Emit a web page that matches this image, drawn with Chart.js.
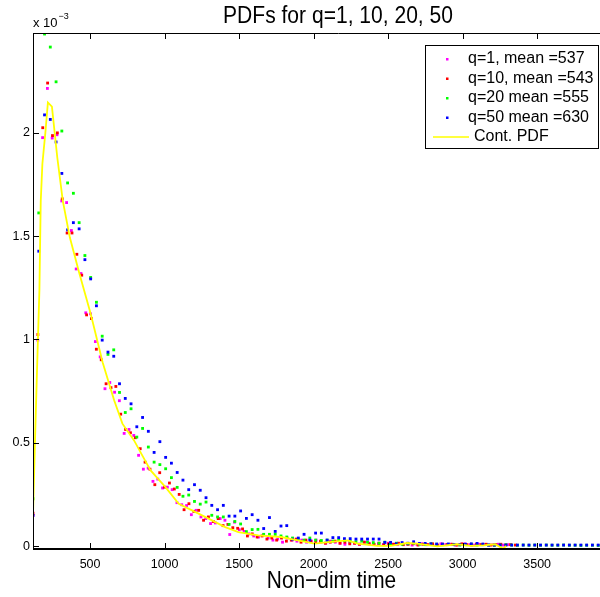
<!DOCTYPE html>
<html>
<head>
<meta charset="utf-8">
<script src="https://cdn.jsdelivr.net/npm/chart.js@4.4.1/dist/chart.umd.min.js"></script>
<style>
  html, body { margin: 0; padding: 0; overflow: hidden; background: #fff; }
  #wrap { width: 648px; height: 597px; }
</style>
</head>
<body>
<div id="wrap"><canvas id="pdfs"></canvas></div>
<script>
// histogram bins: all start at the same first centre, widths differ per q
var binStart = 117;
var binWidthQ1 = 32.2;
var binWidthQ10 = 32.7;
var binWidthQ20 = 38.7;
var binWidthQ50 = 38.7;

// PDF values, in units of 1e-3 (axis shows x 10^-3)
var pdfQ1 = [0.15, 0.997, 1.976, 2.214, 1.974, 1.99, 1.67, 1.662, 1.527, 1.341,
  1.319, 1.129, 1.124, 0.99, 0.916, 0.762, 0.792, 0.745, 0.704, 0.546,
  0.565, 0.536, 0.44, 0.373, 0.378, 0.314, 0.325, 0.282, 0.286, 0.274,
  0.211, 0.201, 0.197, 0.153, 0.174, 0.142, 0.134, 0.11, 0.113, 0.134,
  0.126, 0.057, 0.117, 0.08, 0.072, 0.06, 0.05, 0.045, 0.055, 0.04,
  0.03, 0.035, 0.02, 0.04, 0.03, 0.025, 0.03, 0.02, 0.025, 0.03,
  0.02, 0.015, 0.025, 0.02, 0.015, 0.01, 0.02, 0.015, 0.01, 0.02,
  0.015, 0.01, 0.012, 0.008, 0.015, 0.01, 0.008, 0.012, 0.01, 0.006,
  0.01, 0.012, 0.008, 0.01, 0.006, 0.012, 0.008, 0.01, 0.006, 0.008,
  0.012, 0.008, 0.006, 0.01, 0.008, 0.006, 0.008, 0.01, 0.006, 0.008];
var pdfQ10 = [0.16, 1.024, 2.024, 2.24, 1.986, 1.999, 1.68, 1.515, 1.515, 1.412,
  1.311, 1.119, 1.101, 0.953, 0.902, 0.786, 0.767, 0.773, 0.639, 0.565,
  0.549, 0.525, 0.472, 0.407, 0.373, 0.298, 0.356, 0.286, 0.306, 0.277,
  0.251, 0.177, 0.206, 0.169, 0.174, 0.126, 0.142, 0.12, 0.134, 0.1,
  0.106, 0.09, 0.087, 0.084, 0.05, 0.06, 0.045, 0.05, 0.035, 0.04,
  0.03, 0.04, 0.025, 0.03, 0.035, 0.02, 0.03, 0.025, 0.02, 0.025,
  0.015, 0.02, 0.025, 0.015, 0.02, 0.012, 0.015, 0.01, 0.02, 0.012,
  0.01, 0.015, 0.008, 0.012, 0.01, 0.015, 0.008, 0.01, 0.012, 0.006,
  0.01, 0.008, 0.012, 0.006, 0.01, 0.008, 0.01, 0.006, 0.012, 0.008,
  0.006, 0.01, 0.008, 0.01, 0.006, 0.008, 0.01, 0.006, 0.008, 0.006];
var pdfQ20 = [0.23, 1.612, 2.477, 2.414, 2.246, 2.008, 1.757, 1.707, 1.565, 1.406,
  1.3, 1.18, 1.016, 0.928, 0.95, 0.744, 0.647, 0.665, 0.528, 0.57,
  0.48, 0.407, 0.395, 0.375, 0.332, 0.285, 0.242, 0.248, 0.217, 0.204,
  0.214, 0.15, 0.142, 0.142, 0.106, 0.12, 0.108, 0.071, 0.081, 0.082,
  0.058, 0.058, 0.058, 0.05, 0.045, 0.04, 0.035, 0.03, 0.04, 0.03,
  0.028, 0.03, 0.025, 0.03, 0.028, 0.025, 0.022, 0.025, 0.02, 0.018,
  0.015, 0.02, 0.012, 0.015, 0.01, 0.012, 0.015, 0.01, 0.008, 0.012,
  0.01, 0.008, 0.01, 0.008, 0.006, 0.008, 0.01, 0.006, 0.008, 0.006,
  0.005, 0.006, 0.008, 0.006, 0.005, 0.006, 0.005, 0.006, 0.005, 0.006,
  0.005, 0.005, 0.006, 0.005, 0.005, 0.004, 0.005, 0.005, 0.004, 0.005];
var pdfQ50 = [0.15, 1.427, 2.086, 2.064, 1.955, 1.803, 1.53, 1.565, 1.535, 1.386,
  1.293, 1.163, 0.997, 0.939, 0.919, 0.786, 0.715, 0.689, 0.578, 0.623,
  0.556, 0.454, 0.506, 0.43, 0.402, 0.357, 0.32, 0.274, 0.298, 0.271,
  0.235, 0.198, 0.177, 0.198, 0.146, 0.146, 0.171, 0.135, 0.153, 0.126,
  0.086, 0.139, 0.072, 0.098, 0.1, 0.034, 0.04, 0.058, 0.03, 0.064,
  0.064, 0.03, 0.042, 0.042, 0.037, 0.037, 0.035, 0.035, 0.035, 0.035,
  0.035, 0.019, 0.019, 0.012, 0.018, 0.015, 0.022, 0.014, 0.014, 0.012,
  0.011, 0.011, 0.011, 0.009, 0.009, 0.01, 0.012, 0.014, 0.011, 0.006,
  0.006, 0.006, 0.006, 0.006, 0.006, 0.006, 0.006, 0.006, 0.006, 0.006,
  0.006, 0.006, 0.006, 0.006, 0.006, 0.006, 0.006, 0.006, 0.006, 0.006];

// continuous PDF curve (x, value in 1e-3)
var contX = [117, 130, 144, 160, 169, 180, 200, 217, 244, 280, 317, 364, 426, 504, 584,
  662, 717, 795, 850, 906, 1006, 1095, 1184, 1295, 1407, 1495, 1629, 1782, 1895,
  2006, 2117, 2229, 2295, 2429, 2517, 2629, 2695, 2829, 2962, 3051, 3140, 3217, 3271, 3293];
var contY = [0.15, 0.5, 0.85, 1.24, 1.67, 1.85, 2.0, 2.146, 2.126, 1.88, 1.67, 1.494, 1.325, 1.124, 0.89,
  0.705, 0.593, 0.512, 0.44, 0.367, 0.286, 0.206, 0.174, 0.134, 0.093, 0.069, 0.053, 0.045, 0.029,
  0.013, 0.021, 0.029, 0.013, 0.002, 0.002, 0.016, 0.013, 0.0, 0.01, 0.002, 0.005, 0.01, -0.011, 0.002];

var seriesLabels = ["q=1, mean =537", "q=10, mean =543", "q=20 mean =555", "q=50 mean =630", "Cont. PDF"];
var seriesColors = ["#ff00ff", "#ff0000", "#00ff00", "#0000ff", "#ffff00"];
var titleText = "PDFs for q=1, 10, 20, 50";
var xLabelText = "Non\u2212dim time";

var xTicks = [500, 1000, 1500, 2000, 2500, 3000, 3500];
var yTicks = [0, 0.5, 1, 1.5, 2];
var xMin = 117, xMax = 4217;
var yMin = -0.013, yMax = 2.482;

var FONT = "'Liberation Sans', Arial, Helvetica, sans-serif";

function binPoints(values, width) {
  return values.map(function (v, i) {
    return { x: binStart + i * width, y: v };
  });
}

function dots(idx, values, width, order) {
  return {
    label: seriesLabels[idx],
    data: binPoints(values, width),
    showLine: false,
    pointStyle: "rect",
    pointRadius: 2,
    pointBorderWidth: 0,
    pointBackgroundColor: seriesColors[idx],
    order: order
  };
}

// text squeezed sideways a bit, like the old MATLAB Helvetica
function narrowText(ctx, text, cx, baseline, size, squeeze) {
  ctx.save();
  ctx.font = size + "px " + FONT;
  ctx.textAlign = "center";
  ctx.textBaseline = "alphabetic";
  ctx.translate(cx, baseline);
  ctx.scale(squeeze, 1);
  ctx.fillText(text, 0, 0);
  ctx.restore();
}

// MATLAB-like frame, inward ticks, exponent note, title, xlabel and legend box
var matlabDecor = {
  id: "matlabDecor",
  afterDraw: function (chart) {
    var ctx = chart.ctx;
    var a = chart.chartArea;
    var xs = chart.scales.x, ys = chart.scales.y;
    ctx.save();
    ctx.strokeStyle = "#000";
    ctx.lineWidth = 1;
    ctx.beginPath();
    ctx.moveTo(a.left, a.top + 0.5); ctx.lineTo(a.right, a.top + 0.5);
    ctx.moveTo(a.left + 0.5, a.top); ctx.lineTo(a.left + 0.5, a.bottom);
    xTicks.forEach(function (v) {
      var px = Math.round(xs.getPixelForValue(v)) + 0.5;
      ctx.moveTo(px, a.bottom); ctx.lineTo(px, a.bottom - 6);
      ctx.moveTo(px, a.top); ctx.lineTo(px, a.top + 6);
    });
    yTicks.forEach(function (v) {
      var py = Math.round(ys.getPixelForValue(v)) + 0.5;
      ctx.moveTo(a.left, py); ctx.lineTo(a.left + 6, py);
    });
    ctx.stroke();
    ctx.lineWidth = 2;
    ctx.beginPath();
    ctx.moveTo(a.left, a.bottom); ctx.lineTo(a.right, a.bottom);
    ctx.stroke();

    ctx.fillStyle = "#000";
    narrowText(ctx, titleText, 338, 22.5, 23, 0.915);
    narrowText(ctx, xLabelText, 331.5, 588, 24, 0.87);

    // x 10^-3
    ctx.textBaseline = "alphabetic";
    ctx.textAlign = "left";
    ctx.font = "13px " + FONT;
    ctx.fillText("x 10", 33, 27);
    ctx.font = "9px " + FONT;
    ctx.fillText("\u22123", 58.5, 19);

    // legend
    var lx = 425.5, ly = 45.5, lw = 173, lh = 103;
    ctx.fillStyle = "#fff";
    ctx.fillRect(lx, ly, lw, lh);
    ctx.lineWidth = 1;
    ctx.strokeStyle = "#000";
    ctx.strokeRect(lx, ly, lw, lh);
    ctx.font = "16px " + FONT;
    ctx.textBaseline = "middle";
    seriesLabels.forEach(function (lab, i) {
      var cy = 59 + i * 19.5;
      if (i < 4) {
        ctx.fillStyle = seriesColors[i];
        ctx.fillRect(446, cy - 1, 2.5, 2.5);
        ctx.fillStyle = "#000";
        ctx.fillText(lab, 468, cy);
      } else {
        ctx.strokeStyle = seriesColors[i];
        ctx.lineWidth = 1.5;
        ctx.beginPath();
        ctx.moveTo(433, cy); ctx.lineTo(469, cy);
        ctx.stroke();
        ctx.fillStyle = "#000";
        ctx.fillText(lab, 474, cy);
      }
    });
    ctx.restore();
  }
};

var ctx = document.getElementById("pdfs");

new Chart(ctx, {
  type: "scatter",
  data: {
    datasets: [
      dots(0, pdfQ1, binWidthQ1, 4),
      dots(1, pdfQ10, binWidthQ10, 3),
      dots(2, pdfQ20, binWidthQ20, 2),
      dots(3, pdfQ50, binWidthQ50, 1),
      {
        label: seriesLabels[4],
        data: contX.map(function (x, i) { return { x: x, y: contY[i] }; }),
        showLine: true,
        borderColor: seriesColors[4],
        borderWidth: 1.8,
        pointRadius: 0,
        tension: 0,
        order: 0
      }
    ]
  },
  options: {
    responsive: true,
    maintainAspectRatio: false,
    animation: false,
    events: [],
    layout: { padding: { top: 33, left: 0, right: 0, bottom: 0 } },
    plugins: {
      legend: { display: false },
      tooltip: { enabled: false },
      title: { display: false }
    },
    scales: {
      x: {
        type: "linear",
        min: xMin,
        max: xMax,
        grid: { display: false, drawTicks: false, tickLength: 0 },
        border: { display: false },
        afterBuildTicks: function (scale) {
          scale.ticks = xTicks.map(function (v) { return { value: v }; });
        },
        afterFit: function (scale) { scale.height = 48; },
        ticks: {
          color: "#000",
          autoSkip: false,
          maxRotation: 0,
          padding: 8,
          font: { family: FONT, size: 12.5 },
          callback: function (v) { return String(v); }
        }
      },
      y: {
        type: "linear",
        min: yMin,
        max: yMax,
        grid: { display: false, drawTicks: false, tickLength: 0 },
        border: { display: false },
        afterBuildTicks: function (scale) {
          scale.ticks = yTicks.map(function (v) { return { value: v }; });
        },
        afterFit: function (scale) { scale.width = 33; },
        ticks: {
          color: "#000",
          padding: 3,
          font: { family: FONT, size: 12.5 },
          callback: function (v) { return String(v); }
        }
      }
    }
  },
  plugins: [matlabDecor]
});
</script>
</body>
</html>
